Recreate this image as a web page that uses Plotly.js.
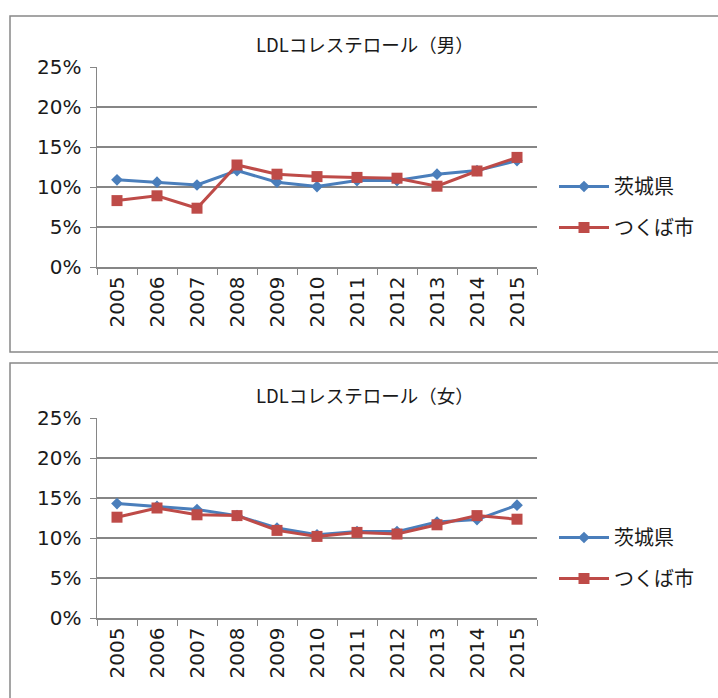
<!DOCTYPE html>
<html><head><meta charset="utf-8">
<script src="https://cdn.plot.ly/plotly-3.0.1.min.js"></script>
<style>body{margin:0;background:#fff}#c{width:718px;height:698px}</style>
</head><body><div id="c"></div>
<script>
const years = ['2005','2006','2007','2008','2009','2010','2011','2012','2013','2014','2015'];
const seriesNames = ['茨城県','つくば市'];
const chartTitles = ['LDLコレステロール（男）','LDLコレステロール（女）'];
const maleIbaraki = [0.109,0.106,0.1025,0.1205,0.106,0.1005,0.108,0.108,0.116,0.1205,0.133];
const maleTsukuba = [0.083,0.089,0.0735,0.1275,0.116,0.113,0.112,0.111,0.101,0.120,0.137];
const femaleIbaraki = [0.143,0.1395,0.1355,0.128,0.1125,0.104,0.108,0.108,0.120,0.123,0.141];
const femaleTsukuba = [0.126,0.1375,0.129,0.128,0.1095,0.102,0.107,0.105,0.1165,0.128,0.1235];

const W=718,H=698;
const FONT='"Noto Sans CJK JP", "Noto Sans", sans-serif';
const NUMFONT='"DejaVu Sans", sans-serif';
const BLUE='#4A7EBB', RED='#BE4B48', GRID='#868686', TXT='#1a1a1a';
const px = v => v/W, py = v => 1 - v/H;

function tr(y, name, color, sym, size, xa, ya, lg, grp){
  return {x:years, y:y, name:name, type:'scatter', mode:'lines+markers',
    xaxis:xa, yaxis:ya, legend:lg, legendgroup:grp,
    line:{color:color,width:3}, marker:{symbol:sym,size:size,color:color}};
}
const data=[
  tr(maleIbaraki, seriesNames[0], BLUE, 'diamond', 9, 'x','y','legend','a'),
  tr(maleTsukuba, seriesNames[1], RED, 'square', 11, 'x','y','legend','b'),
  tr(femaleIbaraki, seriesNames[0], BLUE, 'diamond', 9, 'x2','y2','legend2','c'),
  tr(femaleTsukuba, seriesNames[1], RED, 'square', 11, 'x2','y2','legend2','d')
];
function xax(anchor){
  return {anchor:anchor, domain:[px(97),px(537)], type:'category', range:[-0.5,10.5],
    tickangle:-90, ticks:'outside', ticklen:6, tickcolor:GRID, tickson:'boundaries',
    showline:true, linecolor:GRID, linewidth:1.5, showgrid:false,
    tickfont:{family:NUMFONT,size:20,color:TXT}, fixedrange:true};
}
function yax(anchor, top, bottom){
  return {anchor:anchor, domain:[py(bottom),py(top)], range:[0,0.25], dtick:0.05, tickformat:'.0%',
    ticks:'outside', ticklen:6, tickcolor:GRID, showline:true, linecolor:GRID, linewidth:1.5,
    showgrid:true, gridcolor:GRID, gridwidth:1.5, zeroline:false,
    tickfont:{family:NUMFONT,size:20,color:TXT}, ticklabelstandoff:4, fixedrange:true};
}
function leg(yc){
  return {x:px(554),y:py(yc),xanchor:'left',yanchor:'middle',font:{family:FONT,size:20,color:TXT},
    bgcolor:'rgba(0,0,0,0)',tracegroupgap:12,itemwidth:50};
}
const layout={
  width:W, height:H, margin:{l:0,r:0,t:0,b:0}, paper_bgcolor:'#fff', plot_bgcolor:'#fff',
  font:{family:FONT,color:TXT},
  xaxis:xax('y'), yaxis:yax('x',67,267),
  xaxis2:xax('y2'), yaxis2:yax('x2',418,618),
  legend:leg(207), legend2:leg(558),
  showlegend:true,
  annotations:[
    {text:chartTitles[0],xref:'paper',yref:'paper',x:px(365),y:py(44),showarrow:false,
     font:{family:FONT,size:18.5,color:TXT},xanchor:'center',yanchor:'middle'},
    {text:chartTitles[1],xref:'paper',yref:'paper',x:px(365),y:py(395),showarrow:false,
     font:{family:FONT,size:18.5,color:TXT},xanchor:'center',yanchor:'middle'}
  ],
  shapes:[
    {type:'rect',xref:'paper',yref:'paper',x0:px(10),x1:px(725),y0:py(352),y1:py(16),line:{color:'#888',width:1.5}},
    {type:'rect',xref:'paper',yref:'paper',x0:px(10),x1:px(725),y0:py(705),y1:py(363),line:{color:'#888',width:1.5}}
  ]
};
Plotly.newPlot('c',data,layout,{displayModeBar:false,staticPlot:true});
</script></body></html>
